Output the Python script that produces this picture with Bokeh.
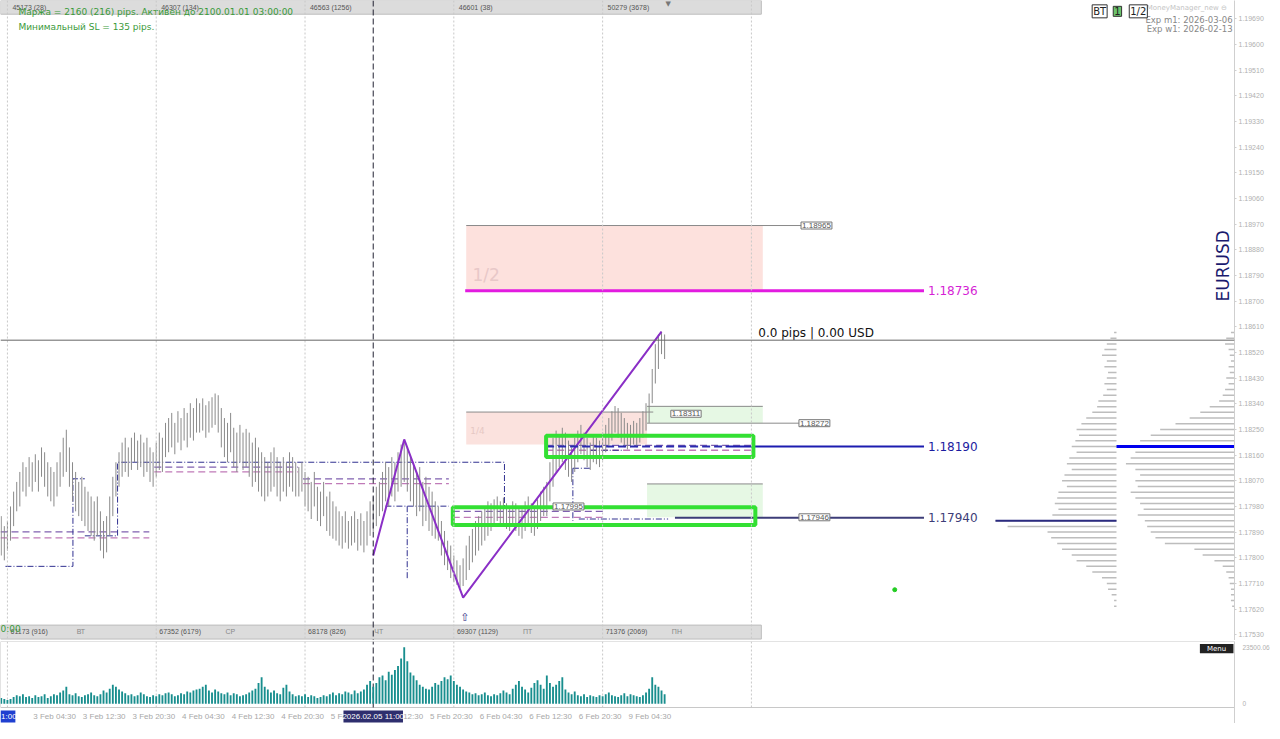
import math
from bokeh.plotting import figure
from bokeh.layouts import column
from bokeh.models import Range1d, LinearAxis, FixedTicker, PrintfTickFormatter, Label, Span
from bokeh.core.properties import value
from bokeh.embed import file_html
from bokeh.resources import INLINE

# ---------------- data ----------------
# 30-minute EURUSD bars, time in minutes from 3 Feb 00:00 (trading time, weekend skipped)
bar_high = [1.17946,1.17911,1.17929,1.17980,1.18032,1.18066,1.18101,1.18135,1.18118,1.18153,1.18135,1.18163,1.18142,1.18187,1.18170,1.18135,
            1.18118,1.18101,1.18135,1.18170,1.18221,1.18249,1.18187,1.18135,1.18101,1.18066,1.18084,1.18049,1.18032,1.18015,1.17998,1.18015,
            1.17963,1.17929,1.17946,1.18015,1.18084,1.18135,1.18170,1.18204,1.18221,1.18187,1.18221,1.18239,1.18211,1.18232,1.18204,1.18221,
            1.18187,1.18170,1.18204,1.18239,1.18221,1.18273,1.18290,1.18308,1.18273,1.18314,1.18290,1.18325,1.18308,1.18342,1.18325,1.18359,
            1.18342,1.18359,1.18335,1.18349,1.18363,1.18376,1.18370,1.18325,1.18290,1.18273,1.18308,1.18256,1.18239,1.18266,1.18239,1.18252,
            1.18239,1.18204,1.18221,1.18187,1.18170,1.18153,1.18135,1.18170,1.18187,1.18153,1.18135,1.18153,1.18135,1.18170,1.18153,1.18135,
            1.18118,1.18135,1.18101,1.18084,1.18066,1.18101,1.18049,1.18032,1.18066,1.18015,1.18032,1.17998,1.17980,1.17963,1.17946,1.17963,
            1.17929,1.17946,1.17963,1.17936,1.17956,1.17929,1.17963,1.17998,1.18015,1.18049,1.18066,1.18101,1.18135,1.18118,1.18153,1.18135,
            1.18170,1.18197,1.18211,1.18187,1.18153,1.18135,1.18101,1.18118,1.18066,1.18084,1.18049,1.18032,1.17998,1.17980,1.17929,1.17894,
            1.17860,1.17843,1.17808,1.17791,1.17774,1.17798,1.17843,1.17877,1.17901,1.17929,1.17946,1.17963,1.17980,1.17998,1.17991,1.18005,
            1.18015,1.17998,1.18011,1.17991,1.17980,1.17998,1.17991,1.17980,1.17970,1.17998,1.18015,1.17991,1.17980,1.18005,1.18032,1.18049,
            1.18066,1.18135,1.18221,1.18246,1.18232,1.18256,1.18239,1.18211,1.18187,1.18221,1.18246,1.18266,1.18239,1.18221,1.18204,1.18228,
            1.18221,1.18211,1.18239,1.18266,1.18290,1.18314,1.18332,1.18325,1.18308,1.18290,1.18273,1.18266,1.18280,1.18273,1.18290,1.18314,
            1.18342,1.18376,1.18462,1.18549,1.18583,1.18593,1.18583]
bar_low = [1.17808,1.17791,1.17825,1.17860,1.17911,1.17963,1.17980,1.18032,1.18015,1.18049,1.18032,1.18066,1.18032,1.18084,1.18049,1.18015,
           1.17998,1.17980,1.18015,1.18049,1.18084,1.18101,1.18049,1.17998,1.17963,1.17946,1.17929,1.17911,1.17894,1.17877,1.17860,1.17877,
           1.17825,1.17798,1.17819,1.17877,1.17946,1.18015,1.18049,1.18084,1.18101,1.18084,1.18108,1.18135,1.18108,1.18118,1.18084,1.18101,
           1.18066,1.18049,1.18084,1.18108,1.18101,1.18153,1.18170,1.18187,1.18163,1.18204,1.18177,1.18211,1.18187,1.18221,1.18211,1.18239,
           1.18239,1.18246,1.18221,1.18239,1.18256,1.18266,1.18239,1.18187,1.18153,1.18135,1.18170,1.18118,1.18101,1.18135,1.18108,1.18118,
           1.18084,1.18049,1.18066,1.18032,1.18015,1.17998,1.18015,1.18032,1.18049,1.18015,1.17998,1.18032,1.18015,1.18049,1.18032,1.18015,
           1.18015,1.18032,1.17980,1.17963,1.17936,1.17980,1.17929,1.17911,1.17946,1.17894,1.17877,1.17867,1.17860,1.17843,1.17832,1.17853,
           1.17832,1.17843,1.17853,1.17825,1.17843,1.17819,1.17843,1.17877,1.17894,1.17911,1.17946,1.17963,1.17998,1.17980,1.18015,1.17998,
           1.18032,1.18049,1.18066,1.18032,1.17998,1.17980,1.17946,1.17963,1.17911,1.17929,1.17894,1.17877,1.17867,1.17860,1.17808,1.17774,
           1.17757,1.17729,1.17715,1.17705,1.17695,1.17701,1.17722,1.17757,1.17784,1.17808,1.17825,1.17843,1.17860,1.17877,1.17894,1.17911,
           1.17929,1.17911,1.17922,1.17901,1.17894,1.17911,1.17894,1.17877,1.17867,1.17894,1.17911,1.17887,1.17877,1.17901,1.17929,1.17946,
           1.17946,1.17998,1.18049,1.18101,1.18118,1.18135,1.18108,1.18084,1.18066,1.18101,1.18135,1.18163,1.18142,1.18118,1.18108,1.18135,
           1.18128,1.18118,1.18142,1.18170,1.18187,1.18211,1.18239,1.18221,1.18204,1.18187,1.18180,1.18187,1.18197,1.18187,1.18204,1.18221,
           1.18246,1.18273,1.18342,1.18411,1.18462,1.18514,1.18497]
volume = [2350,1960,1570,1960,2740,3530,3140,3920,2740,3140,2350,3530,2740,3140,3920,2350,
          3140,3920,3530,4700,5490,7060,3920,3530,4310,3140,2740,3530,3920,4700,3530,3140,
          3920,5490,4700,6270,7840,7060,5880,5100,4310,3530,3920,3140,3530,4700,3920,3140,
          2740,3530,3140,3920,3530,4310,4700,3920,3140,3530,4310,3920,5100,4700,5490,5880,
          6270,7060,7840,5490,4700,5880,5100,4310,3920,4700,3530,4310,3920,3140,3530,3920,
          4700,5490,6270,8620,10980,7060,5880,4700,5490,4310,3920,6660,7840,5100,3920,3140,
          3530,3140,3920,2740,3530,3140,2350,2740,3530,3140,3920,4700,3530,4310,3920,5100,
          4700,3920,5490,4310,5100,5880,7840,9410,7060,8620,10980,11760,9800,13330,12000,14000,
          15680,18820,23500,17640,12940,11760,9800,7840,7060,6270,5880,7060,8620,7840,9410,10980,
          10190,11760,9410,7840,7060,5880,5100,4700,3920,4310,3530,3920,4700,3530,3140,3920,
          3530,4310,5490,4700,3920,6270,7840,9410,7060,5880,4700,6660,8620,9800,7840,6270,
          11760,8620,7060,7840,9410,10980,5880,4700,3920,5100,3530,3140,3920,2740,3530,3140,
          2740,3530,3140,3920,4700,3530,3140,2740,3530,4310,3140,3920,3530,3140,2740,3530,
          4700,6270,10980,7840,7060,5490,3920]
bar_time = [-60 + 30 * i for i in range(len(bar_high))]

price_ticks = [1.17530, 1.17620, 1.17710, 1.17800, 1.17890, 1.17980, 1.18070, 1.18160, 1.18250,
               1.18340, 1.18430, 1.18520, 1.18610, 1.18700, 1.18790, 1.18880, 1.18970, 1.19060,
               1.19150, 1.19240, 1.19330, 1.19420, 1.19510, 1.19600, 1.19690]
time_tick_pos = [270, 750, 1230, 1710, 2190, 2670, 3150, 3630, 4110, 4590, 5070, 5550, 6030]
time_tick_labels = ["3 Feb 04:30", "3 Feb 12:30", "3 Feb 20:30", "4 Feb 04:30", "4 Feb 12:30",
                    "4 Feb 20:30", "5 Feb 04:30", "5 Feb 12:30", "5 Feb 20:30", "6 Feb 04:30",
                    "6 Feb 12:30", "6 Feb 20:30", "9 Feb 04:30"]
vol_ticks = [0, 23500]
vol_tick_labels = ["0", "23500.06"]
day_starts = [0, 1440, 2880, 4320, 5760, 7200]
top_bar_labels = ["45173 (28)", "46307 (134)", "46563 (1256)", "46601 (38)", "50279 (3678)"]
bottom_bar_labels = ["61173 (916)", "67352 (6179)", "68178 (826)", "69307 (1129)", "71376 (2069)"]
day_names = ["ВТ", "СР", "ЧТ", "ПТ", "ПН"]

current_price = 1.18563
cursor_time = 3540
cursor_label = "2026.02.05 11:00"
zigzag_time = [3540, 3840, 4410, 6330]
zigzag_price = [1.17808, 1.18215, 1.17660, 1.18593]

level_sell = 1.18736
level_poc = 1.18190
level_low = 1.17940
zone_half = (4440, 7310, 1.18736, 1.18965)
zone_quarter = (4440, 6190, 1.18197, 1.18311)
green_zone_top = (6190, 7310, 1.18272, 1.18331)
green_zone_bot = (6190, 7310, 1.17942, 1.18059)
box_upper = (5213, 7219, 1.18153, 1.18228)
box_lower = (4310, 7238, 1.17915, 1.17977)

# volume profiles (price level -> relative volume, % of profile POC)
prof_levels = [1.18590, 1.18570, 1.18550, 1.18530, 1.18510, 1.18490, 1.18470, 1.18450, 1.18430, 1.18410,
               1.18390, 1.18370, 1.18350, 1.18330, 1.18310, 1.18290, 1.18270, 1.18250, 1.18230, 1.18210,
               1.18190, 1.18170, 1.18150, 1.18130, 1.18110, 1.18090, 1.18070, 1.18050, 1.18030, 1.18010,
               1.17990, 1.17970, 1.17950, 1.17930, 1.17910, 1.17890, 1.17870, 1.17850, 1.17830, 1.17810,
               1.17790, 1.17770, 1.17750, 1.17730, 1.17710, 1.17690, 1.17670, 1.17650, 1.17630]
prof_right = [3, 7, 8, 5, 4, 3, 5, 4, 7, 5, 8, 10, 13, 21, 29, 38, 50, 63, 71, 80,
              100, 84, 88, 92, 84, 80, 84, 82, 88, 84, 80, 77, 82, 76, 74, 71, 67, 59, 34, 27,
              17, 10, 7, 5, 4, 3, 3, 3, 2]
prof_left = [2, 5, 8, 10, 12, 8, 10, 7, 8, 10, 8, 11, 15, 16, 20, 25, 29, 33, 31, 34,
             37, 33, 39, 41, 37, 43, 45, 41, 48, 49, 51, 48, 53, 100, 90, 57, 54, 49, 45, 37,
             33, 25, 20, 12, 8, 7, 4, 2, 2]

# daily dashed pairs (t0, t1, price_a, price_b)
day_lines = [(-67, 1373, 1.17891, 1.17870), (1421, 2813, 1.18118, 1.18101), (2861, 4272, 1.18077, 1.18060),
             (4310, 5789, 1.17963, 1.17942), (5213, 7229, 1.18194, 1.18177)]
# dash-dot navy stepped levels
step_times = [[-19, 634, 634, 749], [749, 1066, 1066, 4810, 4810], [3658, 4272], [3869, 3869],
              [5472, 5645], [5472, 5472], [5645, 5952], [5530, 6394]]
step_prices = [[1.17770, 1.17770, 1.18077, 1.18077], [1.17877, 1.17877, 1.18135, 1.18135, 1.17974],
               [1.17981, 1.17981], [1.17981, 1.17722], [1.18114, 1.18114], [1.18114, 1.17929],
               [1.18177, 1.18177], [1.17936, 1.17936]]

# ---------------- figures ----------------
X0, X1 = -67, 11875
xr = Range1d(X0, X1)
FW = 1234

p = figure(frame_width=FW, frame_height=640, x_range=xr, y_range=Range1d(1.17510, 1.19754),
           output_backend="svg", toolbar_location=None, x_axis_location=None, y_axis_location=None,
           min_border_left=0, min_border_right=30, min_border_top=0, min_border_bottom=0)
p.outline_line_color = None
p.grid.visible = False
p.xgrid.visible = False
p.ygrid.visible = False

ya = LinearAxis(ticker=FixedTicker(ticks=price_ticks), formatter=PrintfTickFormatter(format="%.5f"))
ya.axis_line_color = "#cfcfcf"
ya.major_tick_line_color = "#cfcfcf"
ya.major_tick_out = 2
ya.major_tick_in = 0
ya.minor_tick_line_color = None
ya.major_label_text_color = "#b0b0b0"
ya.major_label_text_font = "Liberation Sans"
ya.major_label_text_font_size = "7px"
ya.major_label_standoff = 2
p.add_layout(ya, "right")


def txt(fig, x, y, s, size="9px", color="#000000", align="left", baseline="middle",
        font="DejaVu Sans", angle=0.0):
    fig.text(x=[x], y=[y], text=[s], text_font=value(font), text_font_size=value(size),
             text_color=color, text_align=align, text_baseline=baseline, angle=angle)


def boxlabel(fig, x, y, s, size="8px", color="#555555", fill="white", border="#777777",
             align="left", font="Liberation Sans"):
    fig.add_layout(Label(x=x, y=y, text=s, text_font=font, text_font_size=size, text_color=color,
                         background_fill_color=fill, border_line_color=border, text_align=align,
                         text_baseline="middle", padding=1))


# day separators and cursor
for d in day_starts:
    p.add_layout(Span(location=d, dimension="height", line_color="#c8c8c8", line_dash="2 2", line_width=1))
p.add_layout(Span(location=cursor_time, dimension="height", line_color="#222233", line_dash="6 3", line_width=1))

# zones
p.quad(left=[zone_half[0]], right=[zone_half[1]], bottom=[zone_half[2]], top=[zone_half[3]],
       fill_color="#fde1dd", line_color=None)
p.quad(left=[zone_quarter[0]], right=[zone_quarter[1]], bottom=[zone_quarter[2]], top=[zone_quarter[3]],
       fill_color="#fbe2de", line_color=None)
p.quad(left=[green_zone_top[0]], right=[green_zone_top[1]], bottom=[green_zone_top[2]], top=[green_zone_top[3]],
       fill_color="#e6f8e4", line_color=None)
p.quad(left=[green_zone_bot[0]], right=[green_zone_bot[1]], bottom=[green_zone_bot[2]], top=[green_zone_bot[3]],
       fill_color="#e6f8e4", line_color=None)
txt(p, 4500, 1.18790, "1/2", size="17px", color="#e8c8c8")
txt(p, 4480, 1.18245, "1/4", size="9px", color="#e6c8c4")

# thin level lines
p.segment(x0=[zone_half[0]], x1=[7680], y0=[zone_half[3]], y1=[zone_half[3]], line_color="#8a8a8a", line_width=1)
p.segment(x0=[zone_quarter[0]], x1=[6250], y0=[zone_quarter[3]], y1=[zone_quarter[3]], line_color="#8a8a8a", line_width=1)
p.segment(x0=[green_zone_top[0]], x1=[green_zone_top[1]], y0=[green_zone_top[3]], y1=[green_zone_top[3]], line_color="#8a8a8a")
p.segment(x0=[green_zone_top[0]], x1=[7660], y0=[green_zone_top[2]], y1=[green_zone_top[2]], line_color="#8a8a8a")
p.segment(x0=[green_zone_bot[0]], x1=[green_zone_bot[1]], y0=[green_zone_bot[3]], y1=[green_zone_bot[3]], line_color="#8a8a8a")

# day dashed pairs
for (t0, t1, pa, pb) in day_lines:
    p.segment(x0=[t0], x1=[t1], y0=[pa], y1=[pa], line_color="#8060b0", line_dash="7 4", line_width=1.3)
    p.segment(x0=[t0], x1=[t1], y0=[pb], y1=[pb], line_color="#c07ab8", line_dash="7 4", line_width=1.3)
p.multi_line(step_times, step_prices, line_color="#303090", line_dash="6 2 1 2", line_width=1)

# bars
p.segment(x0=bar_time, x1=bar_time, y0=bar_low, y1=bar_high, line_color="#8a8a8a", line_width=1)

# current price line
p.add_layout(Span(location=current_price, dimension="width", line_color="#666666", line_width=1))

# zigzag
p.line(zigzag_time, zigzag_price, line_color="#8a2fc6", line_width=2)

# main levels
p.segment(x0=[4320 + 110], x1=[8870], y0=[level_sell], y1=[level_sell], line_color="#e21be0", line_width=3)
p.segment(x0=[6950], x1=[8870], y0=[level_poc], y1=[level_poc], line_color="#1c1cb0", line_width=2)
p.segment(x0=[5213], x1=[6950], y0=[level_poc], y1=[level_poc], line_color="#2a2ab0", line_width=2, line_dash="8 4")
p.segment(x0=[6460], x1=[8870], y0=[level_low], y1=[level_low], line_color="#3d3d78", line_width=2)
txt(p, 8909, level_sell, "1.18736", size="12px", color="#d51fd5")
txt(p, 8909, level_poc, "1.18190", size="12px", color="#1c1ca0")
txt(p, 8909, level_low, "1.17940", size="12px", color="#3d3d78")

# green frames
for b in (box_upper, box_lower):
    p.quad(left=[b[0]], right=[b[1]], bottom=[b[2]], top=[b[3]], fill_alpha=0,
           line_color="#33e033", line_width=4)

# boxed price labels
boxlabel(p, 7680, 1.18965, "1.18965")
boxlabel(p, 6420, 1.18305, "1.18311")
boxlabel(p, 7660, 1.18272, "1.18272")
boxlabel(p, 7660, 1.17942, "1.17946")
boxlabel(p, 5280, 1.17980, "1.17995")

txt(p, 7267, 1.18587, "0.0 pips | 0.00 USD", size="12px", color="#111111")

# volume profiles
anchor_r, anchor_l = 11875, 10733
wmax_r, wmax_l = 1142, 1171
pr_x0 = [anchor_r - v / 100 * wmax_r for v in prof_right]
pl_x0 = [anchor_l - v / 100 * wmax_l for v in prof_left]
p.segment(x0=pr_x0, x1=[anchor_r] * len(pr_x0), y0=prof_levels, y1=prof_levels, line_color="#bdbdbd", line_width=1.5)
p.segment(x0=pl_x0, x1=[anchor_l] * len(pl_x0), y0=prof_levels, y1=prof_levels, line_color="#bdbdbd", line_width=1.5)
ipr = prof_right.index(max(prof_right))
ipl = prof_left.index(max(prof_left))
p.segment(x0=[pr_x0[ipr]], x1=[anchor_r], y0=[prof_levels[ipr]], y1=[prof_levels[ipr]], line_color="#0000ee", line_width=3)
p.segment(x0=[pl_x0[ipl]], x1=[anchor_l], y0=[prof_levels[ipl]], y1=[prof_levels[ipl]], line_color="#2b2b80", line_width=2)

p.scatter(x=[8587], y=[1.17688], size=4, color="#22cc22")

# top and bottom info bars
p.quad(left=[X0], right=[7296], bottom=[1.19706], top=[1.19754], fill_color="#dcdcdc", line_color="#bdbdbd")
p.quad(left=[X0], right=[7296], bottom=[1.17515], top=[1.17564], fill_color="#dcdcdc", line_color="#bdbdbd")
for d, s in zip(day_starts, top_bar_labels):
    txt(p, d + 48, 1.19730, s, size="7px", color="#555555", font="Liberation Sans")
for d, s, n in zip(day_starts, bottom_bar_labels, day_names):
    txt(p, d + 30, 1.17540, s, size="7px", color="#555555", font="Liberation Sans")
    txt(p, d + 670, 1.17540, n, size="7px", color="#888888", font="Liberation Sans")
txt(p, 6394, 1.19740, "▼", size="7px", color="#777777", align="center")

# top-left info texts
txt(p, 106, 1.19713, "Маржа = 2160 (216) pips. Активен до 2100.01.01 03:00:00", size="9px", color="#3a9a3a")
txt(p, 106, 1.19661, "Минимальный SL = 135 pips.", size="9px", color="#3a9a3a")
txt(p, X0, 1.17550, "0:00", size="9px", color="#3a9a3a")
txt(p, 4426, 1.17590, "⇧", size="11px", color="#333388", align="center")

# top-right panel texts
boxlabel(p, 10570, 1.19716, "BT", size="10px", color="#222222", border="#333333", align="center", font="DejaVu Sans")
boxlabel(p, 10742, 1.19716, "1", size="10px", color="#222222", fill="#6cc46c", border="#333333", align="center", font="DejaVu Sans")
boxlabel(p, 10944, 1.19716, "1/2", size="10px", color="#222222", border="#333333", align="center", font="DejaVu Sans")
txt(p, 11800, 1.19726, "_MoneyManager_new ⊖", size="7px", color="#c4c4c4", align="right")
txt(p, 11856, 1.19685, "Exp m1: 2026-03-06", size="8.5px", color="#888888", align="right")
txt(p, 11856, 1.19654, "Exp w1: 2026-02-13", size="8.5px", color="#888888", align="right")
txt(p, 11760, 1.18824, "EURUSD", size="17px", color="#1a1a6e", align="center", angle=math.pi / 2)

# ---------------- volume panel (frame includes the time-label strip) ----------------
VB = -1581      # bottom edge of the volume pane
TL = -5325      # time label row
v = figure(frame_width=FW, frame_height=82, x_range=xr, y_range=Range1d(-8237, 25875),
           output_backend="svg", toolbar_location=None, x_axis_location=None, y_axis_location=None,
           min_border_left=0, min_border_right=30, min_border_top=1, min_border_bottom=0)
v.outline_line_color = None
v.grid.visible = False
v.xgrid.visible = False
v.ygrid.visible = False
v.quad(left=[X0], right=[X1], bottom=[VB], top=[25875], fill_color=None, line_color="#c8c8c8", line_width=1)
for d in day_starts:
    v.segment(x0=[d], x1=[d], y0=[VB], y1=[25875], line_color="#c8c8c8", line_dash="2 2", line_width=1)
v.segment(x0=[cursor_time], x1=[cursor_time], y0=[VB], y1=[25875], line_color="#222233", line_dash="6 3", line_width=1)
v.vbar(x=bar_time, top=volume, bottom=0, width=18, fill_color="#188e8e", line_color=None)

for t, s in zip(time_tick_pos, time_tick_labels):
    txt(v, t - 20, TL, s, size="8px", color="#a8a8a8", font="Liberation Sans")
v.quad(left=[cursor_time - 288], right=[cursor_time + 288], bottom=[-7821], top=[-2829],
       fill_color="#2e2e6e", line_color=None)
txt(v, cursor_time, TL, cursor_label, size="8px", color="white", align="center", font="Liberation Sans")
v.quad(left=[X0], right=[77], bottom=[-7821], top=[-2829], fill_color="#1f3fd0", line_color=None)
txt(v, X0 + 5, TL, "1:00", size="8px", color="white", font="Liberation Sans")

va = LinearAxis(ticker=FixedTicker(ticks=vol_ticks),
                major_label_overrides={t: s for t, s in zip(vol_ticks, vol_tick_labels)})
va.axis_line_color = "#cfcfcf"
va.major_tick_line_color = None
va.minor_tick_line_color = None
va.major_label_text_color = "#b0b0b0"
va.major_label_text_font = "Liberation Sans"
va.major_label_text_font_size = "6.5px"
va.major_label_standoff = 2
v.add_layout(va, "right")

v.quad(left=[11540], right=[11865], bottom=[21000], top=[24800], fill_color="#222222", line_color=None)
txt(v, 11702, 22900, "Menu", size="7px", color="white", align="center")

layout = column(p, v)
open("out.html", "w").write(file_html(layout, INLINE))
